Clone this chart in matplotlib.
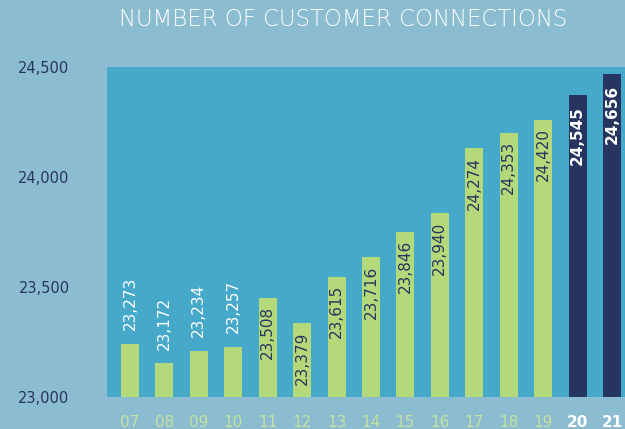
import matplotlib.pyplot as plt
import numpy as np

years = ["07", "08", "09", "10", "11", "12", "13", "14", "15", "16", "17", "18", "19", "20", "21"]
connections = [23273, 23172, 23234, 23257, 23508, 23379, 23615, 23716, 23846, 23940,
               24274, 24353, 24420, 24545, 24656]
highlight = [False] * 13 + [True, True]
ytick_vals = [23000, 23500, 24000, 24500]

bg = "#8bbcd0"
plotbg = "#47a9c9"
green = "#b3d97b"
navy = "#26355f"
lightgreen = "#c6e2a0"

fig = plt.figure(figsize=(6.25, 4.29), dpi=100, facecolor=bg)
ax = fig.add_axes([107/625, 32/429, 1 - 107/625, 330/429])
ax.set_facecolor(plotbg)

x = np.arange(len(years))
colors = [navy if h else green for h in highlight]
bars = ax.bar(x, [v - 23000 for v in connections], bottom=23000, width=0.52, color=colors)
ax.set_ylim(23000, 24690)
ax.set_xlim(-0.668, len(years) - 1 + 0.378)

for i, v in enumerate(connections):
    lab = f"{v:,}"
    if i < 4:
        ax.annotate(lab, (i, v), xytext=(0, 10), textcoords="offset points",
                    rotation=90, ha="center", va="bottom", color="white", fontsize=11)
    elif highlight[i]:
        ax.annotate(lab, (i, v), xytext=(0, -8), textcoords="offset points",
                    rotation=90, ha="center", va="top", color="white", fontsize=11,
                    fontweight="bold")
    else:
        ax.annotate(lab, (i, v), xytext=(0, -6), textcoords="offset points",
                    rotation=90, ha="center", va="top", color=navy, fontsize=11)

for s in ax.spines.values():
    s.set_visible(False)
ax.set_yticks([])
ax.set_xticks(x)
ax.set_xticklabels(years)
ax.tick_params(axis="x", length=0, pad=13, labelsize=11)
for t, h in zip(ax.get_xticklabels(), highlight):
    if h:
        t.set_color("white")
        t.set_fontweight("bold")
    else:
        t.set_color(lightgreen)

# left axis labels span the full plot height
ax2 = ax.twinx()
ax2.set_ylim(23000, 24500)
ax2.yaxis.tick_left()
ax2.set_yticks(ytick_vals)
ax2.set_yticklabels([f"{v:,}" for v in ytick_vals])
ax2.tick_params(axis="y", length=0, pad=27, labelsize=10.5, labelcolor=navy)
for s in ax2.spines.values():
    s.set_visible(False)

fig.text(343/625, 409/429, "NUMBER OF CUSTOMER CONNECTIONS", ha="center", va="center",
         color="white", fontsize=16.5, fontweight="light")

fig.savefig("out.png", dpi=100, facecolor=bg)
